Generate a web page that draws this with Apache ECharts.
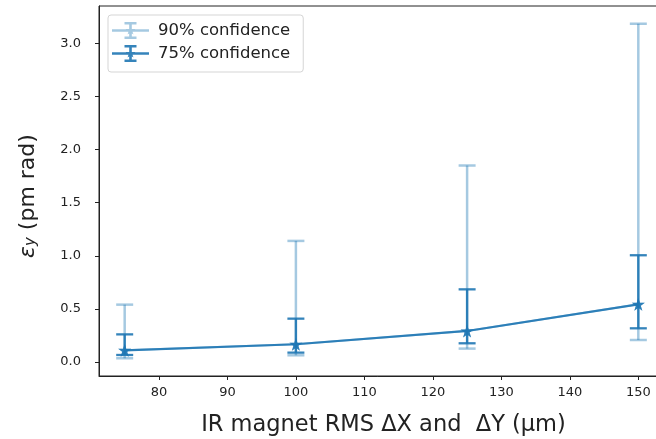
<!DOCTYPE html>
<html>
<head>
<meta charset="utf-8">
<script src="https://cdn.jsdelivr.net/npm/echarts@6/dist/echarts.min.js"></script>
<style>html,body{margin:0;padding:0;background:#fff}#c{width:656px;height:439px}</style>
</head>
<body>
<div id="c"></div>
<script>
// ---- data ----
const xValues = [75, 100, 125, 150];
const centerValues = [0.11, 0.167, 0.292, 0.543];
const low90 = [0.035, 0.063, 0.126, 0.207];
const high90 = [0.54, 1.14, 1.85, 3.185];
const low75 = [0.066, 0.088, 0.176, 0.317];
const high75 = [0.26, 0.408, 0.684, 1.005];
const xTicks = [80, 90, 100, 110, 120, 130, 140, 150];
const yTicks = [0.0, 0.5, 1.0, 1.5, 2.0, 2.5, 3.0];
const seriesNames = ['90% confidence', '75% confidence'];

const FONT = 'DejaVu Sans';
const C90 = 'rgba(31,119,180,0.4)';
const C75 = 'rgba(31,119,180,0.9)';
const STAR = 'path://M10 0 L12.245 6.91 L19.51 6.91 L13.63 11.18 L15.88 18.09 L10 13.82 L4.12 18.09 L6.37 11.18 L0.49 6.91 L7.755 6.91 Z';
const LEGEND_ICON = 'path://M0 7.2 H37 V9.8 H0 Z M17.2 0 H19.8 V17 H17.2 Z M12.5 0 H24.5 V2.4 H12.5 Z M12.5 14.6 H24.5 V17 H12.5 Z M18.5 3.5 L19.62 6.96 L23.26 6.96 L20.32 9.1 L21.44 12.55 L18.5 10.42 L15.56 12.55 L16.68 9.1 L13.74 6.96 L17.38 6.96 Z';

const lineData = xValues.map((x, i) => [x, centerValues[i]]);
const bars90 = xValues.map((x, i) => [x, low90[i], high90[i]]);
const bars75 = xValues.map((x, i) => [x, low75[i], high75[i]]);

function errRender(color, width, cap) {
  return function (params, api) {
    const x = api.value(0);
    const lo = api.coord([x, api.value(1)]);
    const hi = api.coord([x, api.value(2)]);
    const st = { stroke: color, lineWidth: width, fill: null };
    return {
      type: 'group',
      children: [
        { type: 'line', shape: { x1: lo[0], y1: lo[1], x2: hi[0], y2: hi[1] }, style: st },
        { type: 'line', shape: { x1: lo[0] - cap, y1: lo[1], x2: lo[0] + cap, y2: lo[1] }, style: st },
        { type: 'line', shape: { x1: hi[0] - cap, y1: hi[1], x2: hi[0] + cap, y2: hi[1] }, style: st }
      ]
    };
  };
}

const chart = echarts.init(document.getElementById('c'), null, { renderer: 'canvas' });
chart.setOption({
  animation: false,
  backgroundColor: '#fff',
  textStyle: { fontFamily: FONT },
  grid: {
    left: 99, top: 6, width: 565, height: 370,
    outerBoundsMode: 'none', containLabel: false,
    show: true, borderColor: '#222', borderWidth: 1, backgroundColor: 'transparent'
  },
  legend: {
    orient: 'vertical',
    left: 108, top: 15,
    padding: [7, 13, 10, 4],
    itemGap: 6,
    itemWidth: 37, itemHeight: 17,
    borderColor: '#d5d5d5', borderWidth: 1, borderRadius: 3,
    backgroundColor: '#fff',
    itemStyle: { borderWidth: 0 },
    textStyle: { fontFamily: FONT, fontSize: 16.5, color: '#222', padding: [0, 0, 0, 4] },
    data: [
      { name: seriesNames[0], icon: LEGEND_ICON, itemStyle: { color: C90 } },
      { name: seriesNames[1], icon: LEGEND_ICON, itemStyle: { color: C75 } }
    ]
  },
  xAxis: {
    type: 'value', min: 71.25, max: 153.75,
    name: 'IR magnet RMS ΔX and  ΔY (μm)',
    nameLocation: 'middle', nameGap: 38,
    nameTextStyle: { fontFamily: FONT, fontSize: 22.5, color: '#222', padding: [0, 0, 0, 4] },
    axisLine: { show: true, onZero: false, lineStyle: { color: '#222', width: 1 } },
    axisTick: { show: true, length: 4, customValues: xTicks, lineStyle: { color: '#222' } },
    axisLabel: { customValues: xTicks, margin: 10, fontFamily: FONT, fontSize: 13, color: '#222' },
    splitLine: { show: false }
  },
  yAxis: {
    type: 'value', min: -0.132, max: 3.352,
    name: '{e|ε}{s|y} (pm rad)',
    nameLocation: 'middle', nameRotate: 90, nameGap: 60,
    nameTextStyle: {
      fontFamily: FONT, fontSize: 22, color: '#222', padding: [0, 10, 0, 0],
      rich: {
        e: { fontFamily: FONT, fontSize: 22, fontStyle: 'italic', color: '#222' },
        s: { fontFamily: FONT, fontSize: 15, fontStyle: 'italic', color: '#222', verticalAlign: 'bottom', padding: [7, 0, 0, 0] }
      }
    },
    axisLine: { show: true, onZero: false, lineStyle: { color: '#222', width: 1 } },
    axisTick: { show: true, length: 4, customValues: yTicks, lineStyle: { color: '#222' } },
    axisLabel: { customValues: yTicks, margin: 18, fontFamily: FONT, fontSize: 13, color: '#222', formatter: v => v.toFixed(1) },
    splitLine: { show: false }
  },
  series: [
    {
      name: '90% bars', type: 'custom', data: bars90,
      encode: { x: 0, y: [1, 2] },
      renderItem: errRender(C90, 2.5, 8.5), z: 2, silent: true
    },
    {
      name: seriesNames[0], type: 'line', data: lineData,
      symbol: STAR, symbolSize: 13,
      lineStyle: { color: C90, width: 2 },
      itemStyle: { color: C90, borderWidth: 0 },
      z: 3
    },
    {
      name: '75% bars', type: 'custom', data: bars75,
      encode: { x: 0, y: [1, 2] },
      renderItem: errRender(C75, 2.3, 8.5), z: 4, silent: true
    },
    {
      name: seriesNames[1], type: 'line', data: lineData,
      symbol: STAR, symbolSize: 13,
      lineStyle: { color: C75, width: 2.2 },
      itemStyle: { color: C75, borderWidth: 0 },
      z: 5
    }
  ]
});
</script>
</body>
</html>
